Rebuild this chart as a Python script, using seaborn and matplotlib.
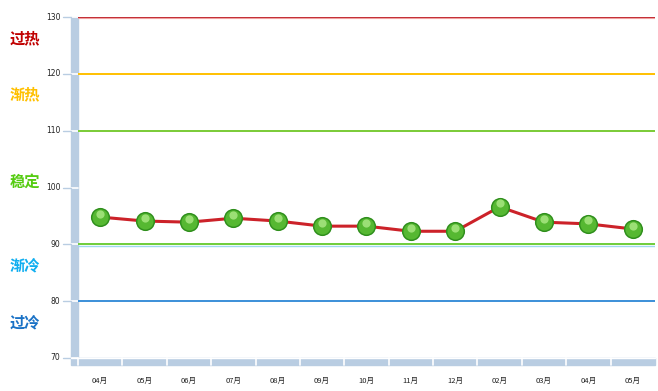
import numpy as np
import pandas as pd
import seaborn as sns
import matplotlib.pyplot as plt
from matplotlib.patches import Rectangle
from matplotlib.transforms import blended_transform_factory, ScaledTranslation

# données
months = ['04月', '05月', '06月', '07月', '08月', '09月', '10月', '11月', '12月', '02月', '03月', '04月', '05月']
values = [94.8, 94.1, 93.9, 94.6, 94.1, 93.2, 93.2, 92.3, 92.3, 96.6, 93.9, 93.6, 92.7]
y_ticks = [70, 80, 90, 100, 110, 120, 130]
zone_levels = [130, 120, 110, 90, 80]
zone_colors = ['#c0262d', '#ffc000', '#7acb36', '#6fcd3a', '#3b8fd8']
zone_names = ['过热', '渐热', '稳定', '渐冷', '过冷']
zone_label_y = [126.3, 116.3, 101.1, 86.2, 76.2]
zone_label_colors = ['#c00000', '#ffc000', '#55cc11', '#10aef0', '#1a72c6']

sns.set_style('white')
plt.rcParams['font.family'] = ['Noto Sans CJK SC', 'DejaVu Sans']

df = pd.DataFrame({'pos': np.arange(len(months)), 'val': values})

fig = plt.figure(figsize=(6.58, 3.91), dpi=100)
ax = fig.add_axes([0.1185, 0.0844, 0.8769, 0.8721])
ax.set_xlim(-0.5, len(months) - 0.5)
ax.set_ylim(70, 130)
for s in ax.spines.values():
    s.set_visible(False)

wall = '#b9cde2'
# mur gauche (effet 3D)
ax.add_patch(Rectangle((-0.66, 70), 0.16, 60, color=wall, clip_on=False, zorder=1))
for t in y_ticks:
    ax.plot([-0.66, -0.5], [t, t], color='white', lw=1.2, clip_on=False, zorder=2)
    ax.plot([-0.84, -0.66], [t, t], color='#b9cde2', lw=1, clip_on=False, zorder=2)
    ax.text(-0.9, t, str(t), ha='right', va='center', fontsize=5.5,
            family='DejaVu Sans', color='#222222')
# sol
ax.add_patch(Rectangle((-0.66, 68.75), len(months) + 0.16, 1.25, color=wall, clip_on=False, zorder=1))
for i in range(len(months)):
    ax.plot([i - 0.5, i - 0.5], [68.75, 70], color='white', lw=1.2, clip_on=False, zorder=2)
ax.plot([-0.66, len(months) - 0.5], [70, 70], color='white', lw=1, clip_on=False, zorder=2)

# lignes de zone
for lvl, c in zip(zone_levels, zone_colors):
    ax.axhline(lvl, color=c, lw=1.4, zorder=3)
ax.axhline(89.75, color='#9fd8ef', lw=1, zorder=3)
ax.axhline(129.8, color='#f0a0a0', lw=0.8, zorder=3)

trans = blended_transform_factory(fig.transFigure, ax.transData)
for name, y, c in zip(zone_names, zone_label_y, zone_label_colors):
    ax.text(0.014, y, name, transform=trans, fontsize=11, fontweight='bold',
            color=c, va='center', ha='left')

# courbe
sns.lineplot(data=df, x='pos', y='val', ax=ax, color='#cc2229', lw=2.2, zorder=4)
ax.scatter(df['pos'], df['val'], s=190, color='#2f8f1c', zorder=5, linewidths=0)
ax.scatter(df['pos'], df['val'], s=135, color='#56b832', zorder=6, linewidths=0)
hl = ax.transData + ScaledTranslation(0, 2.5 / 72, fig.dpi_scale_trans)
ax.scatter(df['pos'], df['val'], s=35, color='#a8e682', zorder=7, linewidths=0,
           transform=hl, alpha=0.85)

ax.set_xticks(df['pos'])
ax.set_xticklabels(months, fontsize=5.5, color='#222222')
ax.set_yticks([])
ax.tick_params(axis='x', length=0, pad=14)
ax.set_xlabel('')
ax.set_ylabel('')

fig.savefig('out.png', dpi=100)
